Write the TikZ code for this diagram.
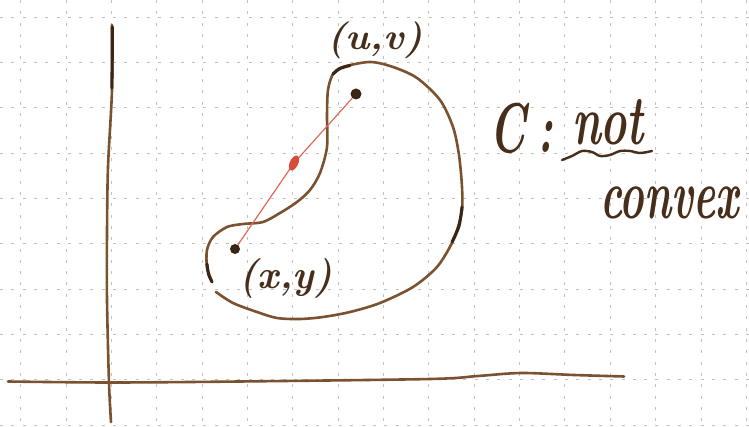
\documentclass[tikz,border=0pt]{standalone}
\definecolor{ink}{RGB}{122,82,48}
\definecolor{darkink}{RGB}{58,38,22}
\definecolor{textink}{RGB}{70,46,26}
\definecolor{redink}{RGB}{226,104,88}
\definecolor{redmark}{RGB}{214,78,58}
\definecolor{gridc}{RGB}{196,192,186}
\tikzset{
 gridline/.style={gridc, line width=0.9pt, dash pattern=on 3pt off 8.3pt},
 pen/.style={ink, line width=2.6pt, line cap=round, line join=round},
 darkpen/.style={darkink, line width=3.1pt, line cap=round, line join=round},
 redpen/.style={redink, line width=1.2pt},
 dotmark/.style={circle, fill=darkink, inner sep=0pt, minimum size=10pt},
 hand/.style={textink, inner sep=0pt},
}
\begin{document}
\begin{tikzpicture}[x=1pt,y=-1pt]
\useasboundingbox (0,0) rectangle (749,427);
\fill[white] (0,0) rectangle (749,427);
% grid
\foreach \i in {0,...,16} {\draw[gridline] ({20.7+45.35*\i},0) -- ({20.7+45.35*\i},427);}
\foreach \j in {0,...,9} {\draw[gridline] (0,{17.3+45.3*\j}) -- (749,{17.3+45.3*\j});}
% axes
\draw[pen] plot[smooth] coordinates {(112,25) (112,90) (108,167) (107,233) (107,300) (109,383) (111,422)};
\draw[darkpen] plot[smooth] coordinates {(112.3,27) (112.2,60) (111.8,88)};
\draw[pen] plot[smooth] coordinates {(8,381.5) (110,382.5) (239,381.5) (430,379) (478,376) (521,373) (574,375) (624,376.5)};
% curve C
\draw[pen] plot[smooth] coordinates {(212,282) (207,267) (207,250) (213,237) (227,227) (243,224) (263,222) (280,213) (297,202) (310,190) (320,173) (327,147) (327,115) (328,90) (333,74) (343,67) (370,62) (393,67) (417,78) (440,100) (453,127) (459,155) (462,187) (462,210) (458,227) (452,243) (437,267) (413,287) (380,303) (350,312) (323,317) (300,319) (277,318) (257,312) (233,303) (216,292)};
\draw[darkpen] plot[smooth] coordinates {(333,74) (340,68.5) (350,65.5)};
\draw[darkpen] plot[smooth] coordinates {(462,207) (459,226) (452,242)};
\draw[darkpen] plot[smooth] coordinates {(207,264) (208.5,274) (212,282)};
% points and segment
\node[dotmark] (xy) at (235,249) {};
\node[dotmark, minimum size=11pt] (uv) at (356,94) {};
\coordinate (mid) at (294,163);
\draw[redpen] (xy) -- (mid) -- (uv);
\fill[redmark, rotate around={-25:(mid)}] (mid) ellipse (4.2pt and 8pt);
% labels
\node[hand, font=\bfseries\itshape\fontsize{37}{37}\selectfont] (uvlabel) at (375,40) {\scalebox{1.05}[1]{(u,v)}};
\node[hand, font=\bfseries\itshape\fontsize{40}{40}\selectfont] (xylabel) at (286,278) {\scalebox{0.95}[1]{(x,y)}};
\node[hand, anchor=base west, font=\bfseries\itshape\fontsize{52}{52}\selectfont] (cnot) at (489,153) {\scalebox{0.85}[1.35]{C\hspace{14pt}:\hspace{22pt}\raisebox{6pt}{not}}};
\node[hand, anchor=base west, font=\bfseries\itshape\fontsize{52}{52}\selectfont] (convex) at (600,219) {\scalebox{0.8}[1.35]{convex}};
\draw[textink, line width=2.4pt, line cap=round] plot[smooth] coordinates {(562,160) (572,156) (582,151) (592,152) (600,156) (610,155) (620,151) (630,151) (640,153) (652,151)};
\end{tikzpicture}
\end{document}
